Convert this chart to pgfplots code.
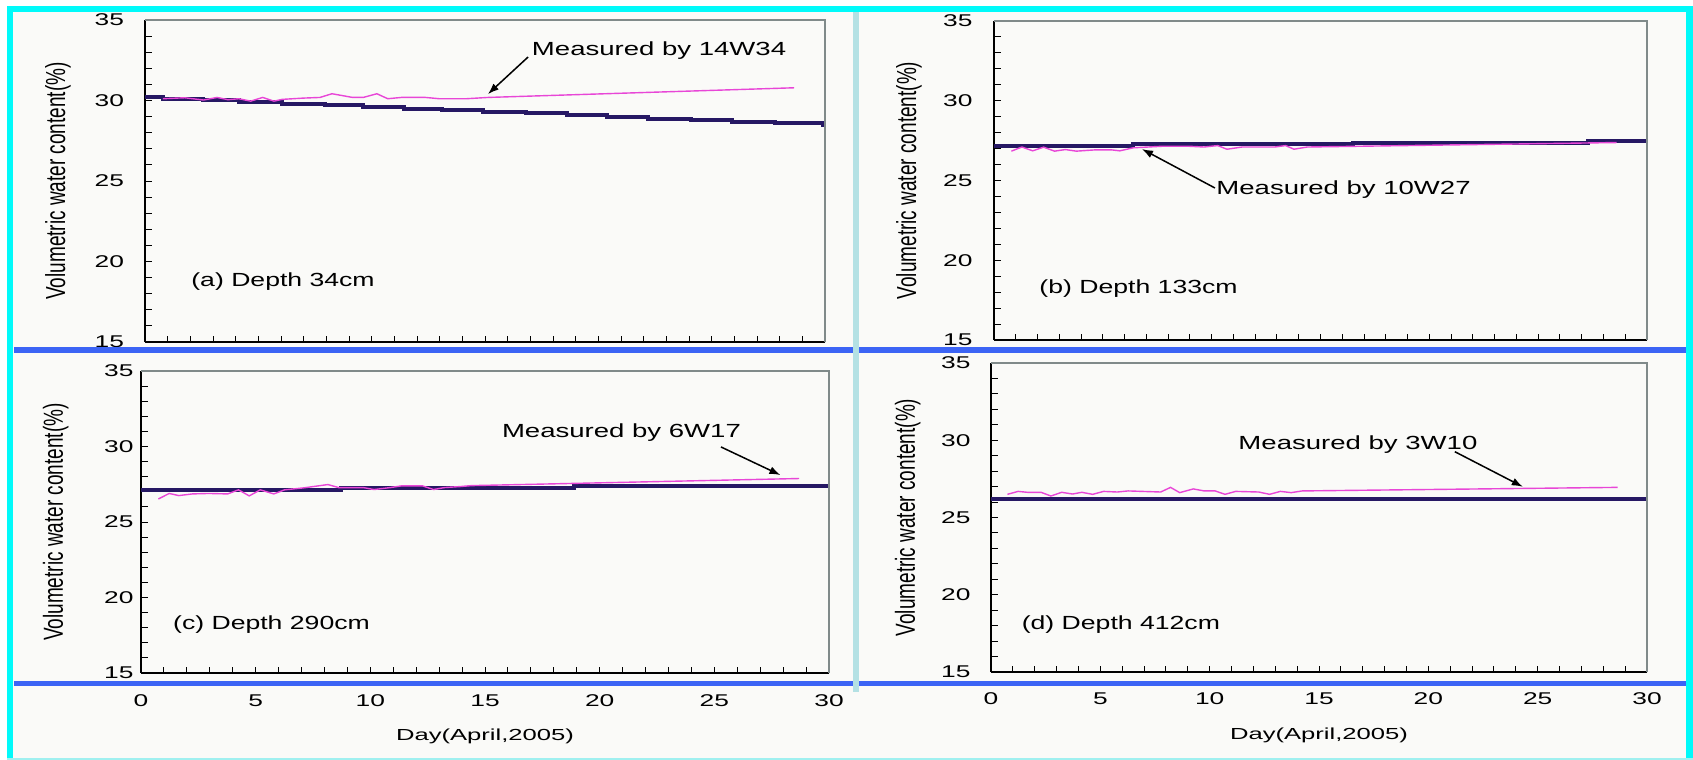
\documentclass[border=0pt]{standalone}
\usepackage{pgfplots}
\pgfplotsset{compat=1.18}
\usepackage{fontspec}
\setmainfont{Liberation Sans}
\usetikzlibrary{arrows.meta}
\definecolor{bg}{RGB}{250,250,248}
\definecolor{cyanb}{RGB}{0,250,250}
\definecolor{cyanl}{RGB}{160,240,240}
\definecolor{blueb}{RGB}{60,100,245}
\definecolor{vline}{RGB}{180,225,228}
\definecolor{navy}{RGB}{38,24,100}
\definecolor{mag}{RGB}{232,70,215}
\definecolor{framegray}{RGB}{128,138,138}
\newcommand{\annfont}{\fontsize{19bp}{21bp}\selectfont}
\tikzset{arr/.style={black, line width=1.5bp, -{Latex[length=11bp,width=8bp]}}}
\pgfplotsset{
 panel/.style={
  scale only axis,
  xmin=0,xmax=30,ymin=15,ymax=35,
  axis x line*=bottom, axis y line*=left,
  axis line style={-,black,line width=1.4bp},
  xtick={0,5,...,30}, minor xtick={0,1,...,30},
  ytick={15,20,...,35}, minor ytick={15,16,...,35},
  tick align=inside,
  major tick length=6.5bp, minor tick length=6.5bp,
  every tick/.style={black,line width=1bp},
  tick label style={font=\fontsize{17bp}{18bp}\selectfont},
  /pgf/number format/assume math mode=true,
  yticklabel={\scalebox{1.55}[1]{\pgfmathprintnumber{\tick}}},
  xticklabel={\scalebox{1.55}[1]{\pgfmathprintnumber{\tick}}},
  ylabel={\scalebox{1}[1.45]{Volumetric water content(\%)}},
  ylabel style={font=\fontsize{19bp}{21bp}\selectfont, anchor=center},
  clip=false,
  axis background/.style={fill=bg},
 },
 sim/.style={const plot, navy, line width=4bp, no markers},
 meas/.style={mag, line width=1.4bp, no markers},
}
\begin{document}
\begin{tikzpicture}
\useasboundingbox (0,0) rectangle (1693bp,-760bp);
\fill[white] (0,0) rectangle (1693bp,-760bp);
\fill[bg] (7bp,-6bp) rectangle (1693bp,-760bp);

% (a)
\begin{axis}[panel, at={(145bp,-20bp)}, anchor=north west, width=680bp, height=322bp,
  xticklabels={}, yticklabel style={xshift=-17.5bp},
  ylabel style={at={(axis description cs:-0.128,0.5)}}]
\addplot[sim] coordinates {(0,30.19) (0.79,30.09) (2.58,30.03) (4.14,29.92) (6.05,29.80) (7.96,29.69) (9.63,29.59) (11.43,29.50) (13.10,29.40) (14.90,29.30) (16.80,29.20) (18.60,29.09) (20.40,28.97) (22.20,28.88) (24.10,28.78) (25.90,28.68) (27.80,28.60) (29.90,28.47) (30,28.47)};
\addplot[meas] coordinates {(0.79,30.11) (1.75,30.17) (2.58,30.03) (3.18,30.19) (3.66,30.05) (4.14,30.11) (4.66,29.96) (5.19,30.19) (5.69,29.96) (6.05,30.07) (7.0,30.15) (7.72,30.19) (8.25,30.42) (9.16,30.19) (9.63,30.19) (10.23,30.42) (10.71,30.11) (11.31,30.19) (12.38,30.19) (12.98,30.11) (14.18,30.11) (15.13,30.19) (28.64,30.79)};
\draw[framegray, line width=2bp] (rel axis cs:0,1) -- (rel axis cs:1,1) -- (rel axis cs:1,0);
\draw[arr] (axis cs:16.9,32.7) -- (axis cs:15.13,30.4);
\node[font=\annfont] at (axis cs:22.68,33.1) {\scalebox{1.45}[1]{Measured by 14W34}};
\node[font=\annfont] at (axis cs:6.09,18.76) {\scalebox{1.4}[1]{(a) Depth 34cm}};
\end{axis}

% (b)
\begin{axis}[panel, at={(994bp,-21bp)}, anchor=north west, width=653bp, height=319bp,
  xticklabels={}, yticklabel style={xshift=-18bp},
  ylabel style={at={(axis description cs:-0.130,0.5)}}]
\addplot[sim] coordinates {(0,27.17) (6.4,27.30) (16.5,27.38) (27.3,27.46) (30,27.46)};
\addplot[meas] coordinates {(0.8,26.84) (1.28,27.1) (1.78,26.86) (2.28,27.09) (2.78,26.84) (3.28,26.94) (3.78,26.84) (4.65,26.92) (5.4,26.92) (5.78,26.86) (6.4,27.05) (7.78,27.15) (8.9,27.15) (9.65,27.1) (10.28,27.19) (10.7,26.96) (11.4,27.1) (12.9,27.1) (13.4,27.19) (13.78,26.96) (14.4,27.1) (28.6,27.38)};
\draw[framegray, line width=2bp] (rel axis cs:0,1) -- (rel axis cs:1,1) -- (rel axis cs:1,0);
\draw[arr] (axis cs:10.15,24.53) -- (axis cs:6.8,26.97);
\node[font=\annfont] at (axis cs:16.06,24.4) {\scalebox{1.45}[1]{Measured by 10W27}};
\node[font=\annfont] at (axis cs:6.64,18.23) {\scalebox{1.4}[1]{(b) Depth 133cm}};
\end{axis}

% (c)
\begin{axis}[panel, at={(141bp,-371bp)}, anchor=north west, width=688bp, height=302bp,
  yticklabel style={xshift=-4bp}, xticklabel style={yshift=-18.5bp},
  ylabel style={at={(axis description cs:-0.124,0.5)}},
  xlabel={\scalebox{1.6}[1]{Day(April,2005)}},
  xlabel style={font=\fontsize{16bp}{18bp}\selectfont, at={(axis description cs:0.5,-0.210)}, anchor=center}]
\addplot[sim] coordinates {(0,27.13) (8.7,27.26) (18.9,27.39) (30,27.39)};
\addplot[meas] coordinates {(0.76,26.53) (1.23,26.89) (1.65,26.75) (2.24,26.86) (2.95,26.89) (3.78,26.86) (4.25,27.13) (4.72,26.73) (5.2,27.13) (5.79,26.86) (6.26,27.13) (7.09,27.26) (8.15,27.48) (8.62,27.28) (9.69,27.28) (10.16,27.15) (10.87,27.28) (11.34,27.39) (12.28,27.39) (12.76,27.15) (13.23,27.28) (13.94,27.35) (14.41,27.41) (28.7,27.88)};
\draw[framegray, line width=2bp] (rel axis cs:0,1) -- (rel axis cs:1,1) -- (rel axis cs:1,0);
\draw[arr] (axis cs:25.29,29.97) -- (axis cs:27.88,28.11);
\node[font=\annfont] at (axis cs:20.95,30.93) {\scalebox{1.45}[1]{Measured by 6W17}};
\node[font=\annfont] at (axis cs:5.69,18.18) {\scalebox{1.4}[1]{(c) Depth 290cm}};
\end{axis}

% (d)
\begin{axis}[panel, at={(991bp,-363bp)}, anchor=north west, width=656bp, height=309bp,
  yticklabel style={xshift=-17bp}, xticklabel style={yshift=-17.5bp},
  ylabel style={at={(axis description cs:-0.127,0.5)}},
  xlabel={\scalebox{1.6}[1]{Day(April,2005)}},
  xlabel style={font=\fontsize{16bp}{18bp}\selectfont, at={(axis description cs:0.5,-0.2055)}, anchor=center}]
\addplot[sim] coordinates {(0,26.2) (30,26.2)};
\addplot[meas] coordinates {(0.75,26.5) (1.24,26.69) (1.67,26.63) (2.29,26.63) (2.74,26.39) (3.23,26.63) (3.73,26.52) (4.15,26.63) (4.65,26.5) (5.15,26.69) (5.77,26.65) (6.27,26.72) (7.76,26.65) (8.21,26.95) (8.63,26.61) (9.25,26.85) (9.75,26.72) (10.25,26.72) (10.7,26.5) (11.19,26.69) (12.24,26.65) (12.74,26.5) (13.23,26.69) (13.73,26.61) (14.23,26.72) (28.66,26.95)};
\draw[framegray, line width=2bp] (rel axis cs:0,1) -- (rel axis cs:1,1) -- (rel axis cs:1,0);
\draw[arr] (axis cs:21.21,29.26) -- (axis cs:24.32,26.99);
\node[font=\annfont] at (axis cs:16.78,29.72) {\scalebox{1.45}[1]{Measured by 3W10}};
\node[font=\annfont] at (axis cs:5.94,18.04) {\scalebox{1.4}[1]{(d) Depth 412cm}};
\end{axis}

% decorations
\fill[blueb] (14bp,-347bp) rectangle (1693bp,-353bp);
\fill[blueb] (14bp,-681bp) rectangle (1693bp,-686bp);
\fill[vline] (853bp,-12bp) rectangle (859bp,-692bp);
\fill[cyanb] (7bp,-6bp) rectangle (1693bp,-12bp);
\fill[cyanb] (7bp,-6bp) rectangle (13bp,-760bp);
\fill[cyanb] (1686bp,-6bp) rectangle (1693bp,-760bp);
\fill[cyanl] (7bp,-757.5bp) rectangle (1693bp,-760bp);
\end{tikzpicture}
\end{document}
